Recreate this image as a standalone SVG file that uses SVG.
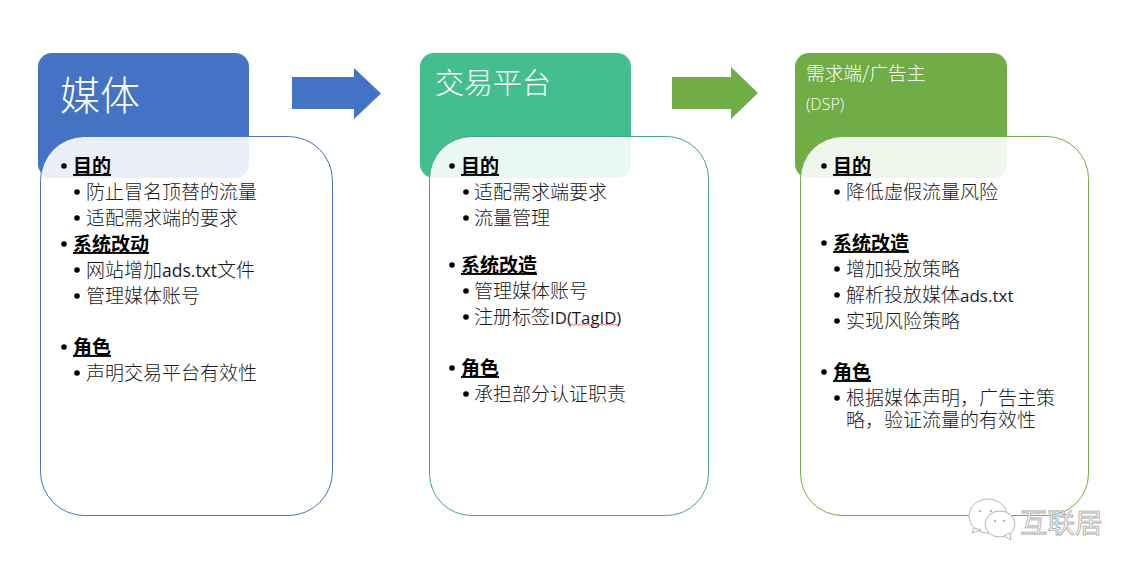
<svg xmlns="http://www.w3.org/2000/svg" width="1140" height="573" viewBox="0 0 1140 573">
<style>
text{font-family:"Noto Sans CJK SC","Noto Sans",sans-serif;fill:#1a1a1a}
.h{font-size:19px;font-weight:700;text-decoration:underline;fill:#000}
.i{font-size:19px;font-weight:300}
.l{font-family:"Open Sans","Noto Sans CJK SC",sans-serif;font-weight:400}
.w{fill:#fff;font-weight:300}
.d{fill:#000}
.card{fill:#fff;fill-opacity:.89;stroke-width:1}
.wm{font-size:27.500px;fill:#fff;stroke:#a8a8a8;stroke-width:.8}
.b{fill:#fff;stroke:#b5b5b5;stroke-width:1}
</style>
<rect width="1140" height="573" fill="#fff"/>
<g id="connectors">
<path fill="#4472C4" d="M292 77H354V68L381 93.500L354 119V109H292Z"/>
<path fill="#70AD47" d="M672 77H731V67L758 93L731 119V109H672Z"/>
</g>
<g id="media">
<rect x="38" y="53" width="211" height="125" rx="14" fill="#4472C4"/>
<text class="w" x="60" y="110" font-size="40">媒体</text>
<rect class="card" x="40.500" y="136.500" width="292" height="379" rx="44" stroke="#4472C4"/>
<circle class="d" cx="64" cy="166" r="2.800"/><text class="h" x="73" y="173">目的</text>
<circle class="d" cx="77" cy="192" r="2.800"/><text class="i" x="86" y="199">防止冒名顶替的流量</text>
<circle class="d" cx="77" cy="218" r="2.800"/><text class="i" x="86" y="225">适配需求端的要求</text>
<circle class="d" cx="64" cy="244" r="2.800"/><text class="h" x="73" y="251">系统改动</text>
<circle class="d" cx="77" cy="270" r="2.800"/><text class="i" x="86" y="277">网站增加<tspan class="l" font-size="17.500">ads.txt</tspan>文件</text>
<circle class="d" cx="77" cy="296" r="2.800"/><text class="i" x="86" y="303">管理媒体账号</text>
<circle class="d" cx="64" cy="347" r="2.800"/><text class="h" x="73" y="354">角色</text>
<circle class="d" cx="77" cy="373" r="2.800"/><text class="i" x="86" y="380">声明交易平台有效性</text>
</g>
<g id="exchange">
<rect x="420" y="53" width="211" height="125" rx="14" fill="#43BE8F"/>
<text class="w" x="435" y="94" font-size="29">交易平台</text>
<rect class="card" x="429.500" y="136.500" width="279" height="379" rx="42" stroke="#43A08A"/>
<circle class="d" cx="452" cy="166" r="2.800"/><text class="h" x="461" y="173">目的</text>
<circle class="d" cx="466" cy="192" r="2.800"/><text class="i" x="474" y="199">适配需求端要求</text>
<circle class="d" cx="466" cy="218" r="2.800"/><text class="i" x="474" y="225">流量管理</text>
<circle class="d" cx="452" cy="265" r="2.800"/><text class="h" x="461" y="272">系统改造</text>
<circle class="d" cx="466" cy="291" r="2.800"/><text class="i" x="474" y="298">管理媒体账号</text>
<circle class="d" cx="466" cy="317" r="2.800"/><text class="i" x="474" y="324">注册标签<tspan class="l" font-size="16.800">ID(TagID)</tspan></text>
<path d="M570 325.500l2-1.500 2 1.500 2-1.500 2 1.500 2-1.500 2 1.500 2-1.500 2 1.500 2-1.500 2 1.500 2-1.500 2 1.500 2-1.500 2 1.500 2-1.500 2 1.500 2-1.500 2 1.500 2-1.500 2 1.500 2-1.500 2 1.500 2-1.500 2 1.500" fill="none" stroke="#d9534f" stroke-width=".8"/>
<circle class="d" cx="452" cy="368" r="2.800"/><text class="h" x="461" y="375">角色</text>
<circle class="d" cx="466" cy="394" r="2.800"/><text class="i" x="474" y="401">承担部分认证职责</text>
</g>
<g id="dsp">
<rect x="795" y="53" width="212" height="125" rx="14" fill="#70AD47"/>
<text class="w" x="806" y="80" font-size="18.700">需求端/广告主</text>
<text class="w l" x="806" y="110" font-size="16">(DSP)</text>
<rect class="card" x="800.500" y="136.500" width="288" height="379" rx="42" stroke="#70AD47"/>
<circle class="d" cx="824" cy="166" r="2.800"/><text class="h" x="833" y="173">目的</text>
<circle class="d" cx="837" cy="192" r="2.800"/><text class="i" x="846" y="199">降低虚假流量风险</text>
<circle class="d" cx="824" cy="243" r="2.800"/><text class="h" x="833" y="250">系统改造</text>
<circle class="d" cx="837" cy="269" r="2.800"/><text class="i" x="846" y="276">增加投放策略</text>
<circle class="d" cx="837" cy="295" r="2.800"/><text class="i" x="846" y="302">解析投放媒体<tspan class="l" font-size="17">ads.txt</tspan></text>
<circle class="d" cx="837" cy="321" r="2.800"/><text class="i" x="846" y="328">实现风险策略</text>
<circle class="d" cx="824" cy="372" r="2.800"/><text class="h" x="833" y="379">角色</text>
<circle class="d" cx="837" cy="398" r="2.800"/><text class="i" x="846" y="405">根据媒体声明，广告主策</text>
<text class="i" x="846" y="427">略，验证流量的有效性</text>
</g>
<g id="watermark">
<ellipse class="b" cx="988" cy="516" rx="19" ry="17"/>
<path class="b" d="M974 528l-2 5 9-3z"/>
<ellipse class="b" cx="1000" cy="524" rx="15" ry="13"/>
<path class="b" d="M1004 536l7 4-1-7z"/>
<circle cx="980" cy="511" r="1.200" fill="#b5b5b5"/><circle cx="991" cy="511" r="1.200" fill="#b5b5b5"/>
<circle cx="995" cy="521" r="1.200" fill="#b5b5b5"/><circle cx="1004" cy="521" r="1.200" fill="#b5b5b5"/>
<text class="wm" x="1020" y="533">互联居</text>
</g>
</svg>
